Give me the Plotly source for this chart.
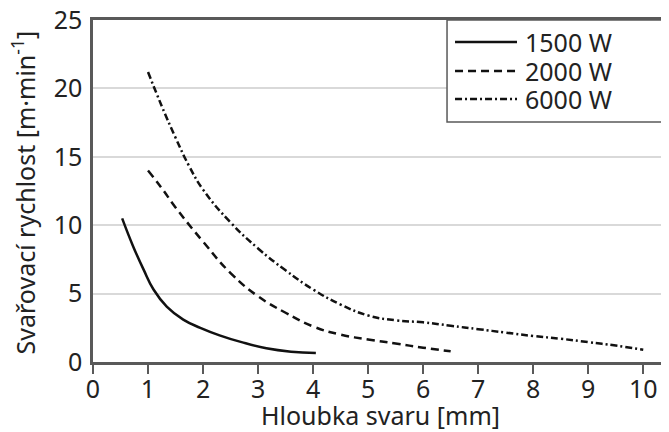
import plotly.graph_objects as go

# Data
depth_1500 = [0.53, 0.73, 0.92, 1.1, 1.34, 1.64, 1.95, 2.3, 2.7, 3.15, 3.6, 4.05]
speed_1500 = [10.5, 8.45, 6.75, 5.3, 4.05, 3.1, 2.5, 1.95, 1.45, 1.0, 0.75, 0.65]

depth_2000 = [1.0, 1.25, 1.5, 2.0, 2.5, 3.0, 3.5, 4.0, 4.5, 5.0, 5.5, 6.0, 6.5]
speed_2000 = [14.0, 12.7, 11.3, 8.8, 6.5, 4.8, 3.6, 2.6, 2.0, 1.65, 1.35, 1.05, 0.78]

depth_6000 = [1.0, 1.25, 1.5, 1.75, 2.0, 2.5, 3.0, 3.5, 4.0, 4.5, 5.0, 5.5, 6.0,
              6.5, 7.0, 7.5, 8.0, 8.5, 9.0, 9.5, 10.0]
speed_6000 = [21.2, 18.7, 16.4, 14.3, 12.6, 10.2, 8.3, 6.7, 5.3, 4.2, 3.4, 3.05, 2.9,
              2.65, 2.4, 2.15, 1.9, 1.7, 1.45, 1.2, 0.9]

series_names = ["1500 W", "2000 W", "6000 W"]
dashes = ["solid", "8px,5px", "7px,3px,2px,3px"]

x_ticks = list(range(0, 11))
y_ticks = [0, 5, 10, 15, 20, 25]

FONT = "Noto Sans"
FS = 25
TXT = "#222222"
LINE = "#111111"

fig = go.Figure()
for xs, ys, name, dash in zip([depth_1500, depth_2000, depth_6000],
                              [speed_1500, speed_2000, speed_6000],
                              series_names, dashes):
    fig.add_trace(go.Scatter(
        x=xs, y=ys, mode="lines", name=name,
        line=dict(color=LINE, width=2.5, dash=dash, shape="spline", smoothing=1.3),
        showlegend=False,
    ))

# page body has an 8px default margin, so the figure is sized to fit the window
fig.update_layout(
    width=661, height=424,
    margin=dict(l=85, r=1, t=12, b=70),
    paper_bgcolor="white", plot_bgcolor="white",
    font=dict(family=FONT, size=FS, color=TXT),
    xaxis=dict(
        range=[0, 10.45], tickvals=x_ticks, ticktext=[str(t) for t in x_ticks],
        showgrid=False, zeroline=False, automargin=False,
        showline=True, linecolor="#595959", linewidth=2.5, mirror=True,
        ticks="outside", ticklen=9, tickwidth=1.5, tickcolor="#595959",
        ticklabelstandoff=-6, ticklabeloverflow="allow",
        tickfont=dict(size=FS, color=TXT),
        title=dict(text="Hloubka svaru [mm]", font=dict(size=FS, color=TXT), standoff=2),
    ),
    yaxis=dict(
        range=[0, 25], tickvals=y_ticks, ticktext=[str(t) for t in y_ticks],
        showgrid=True, gridcolor="#d9d9d9", gridwidth=1.5, zeroline=False, automargin=False,
        showline=True, linecolor="#595959", linewidth=2.5,
        ticks="", tickfont=dict(size=FS, color=TXT), ticklabelstandoff=3,
        ticklabeloverflow="allow",
    ),
)

# y-axis title placed as rotated text
fig.add_annotation(xref="paper", yref="paper", x=-0.121, y=0.497,
                   text="Svařovací rychlost [m·min<sup>-1</sup>]", textangle=-90,
                   showarrow=False, xanchor="center", yanchor="middle",
                   font=dict(family=FONT, size=FS, color=TXT))

# right plot border (thin, light)
fig.add_shape(type="line", xref="paper", yref="paper", x0=1, x1=1, y0=0, y1=1,
              line=dict(color="#d0d0d0", width=1))

# legend box
lx0, lx1, ly0, ly1 = 0.6157, 1.0, 0.7018, 1.0
fig.add_shape(type="rect", xref="paper", yref="paper", x0=lx0, x1=lx1, y0=ly0, y1=ly1,
              line=dict(color="#595959", width=1.5), fillcolor="white", layer="above")
row_y = [0.9357, 0.8509, 0.769]
for name, dash, yy in zip(series_names, dashes, row_y):
    fig.add_shape(type="line", xref="paper", yref="paper", x0=0.6296, x1=0.7374,
                  y0=yy, y1=yy, line=dict(color=LINE, width=2.5, dash=dash), layer="above")
    fig.add_annotation(xref="paper", yref="paper", x=0.7478, y=yy, text=name,
                       showarrow=False, xanchor="left", yanchor="middle",
                       font=dict(family=FONT, size=FS, color=TXT))

fig.write_html("out.html")
